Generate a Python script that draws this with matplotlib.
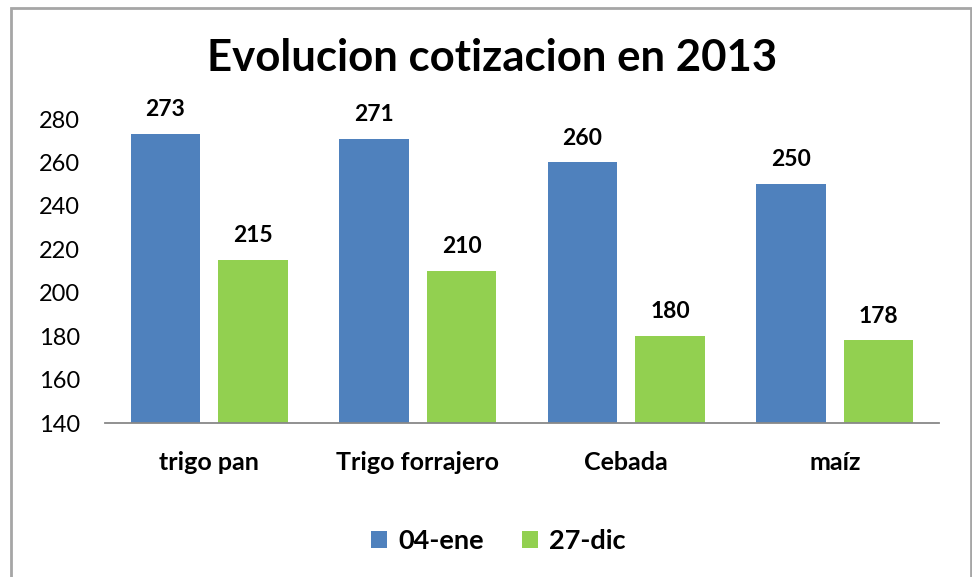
import matplotlib.pyplot as plt
from matplotlib.patches import Rectangle
import numpy as np

plt.rcParams['font.family'] = ['Lato', 'DejaVu Sans']

# datos
categorias = ["trigo pan", "Trigo forrajero", "Cebada", "maíz"]
ene = [273, 271, 260, 250]
dic = [215, 210, 180, 178]
series = ["04-ene", "27-dic"]
colores = ["#4F81BD", "#92D050"]

fig = plt.figure(figsize=(9.72, 5.77), dpi=100)
ax = fig.add_axes([105/972, 1-423/577, 834/972, (423-119)/577])

x = np.arange(len(categorias))
w = 0.335
gap = 0.085
b1 = ax.bar(x - (w+gap)/2, [v-140 for v in ene], w, bottom=140, color=colores[0], label=series[0])
b2 = ax.bar(x + (w+gap)/2, [v-140 for v in dic], w, bottom=140, color=colores[1], label=series[1])

for bars, vals in ((b1, ene), (b2, dic)):
    for r, v in zip(bars, vals):
        ax.annotate(str(v), (r.get_x()+r.get_width()/2, v), xytext=(0, 10), textcoords="offset points",
                    ha="center", va="bottom", fontsize=16.5, fontweight="bold", annotation_clip=False)

ax.set_ylim(140, 280)
ax.set_xlim(-0.5, len(categorias)-0.5)
ax.set_yticks(range(140, 281, 20))
ax.set_xticks(x)
ax.set_xticklabels(categorias, fontsize=18, fontweight="bold")
ax.tick_params(axis="y", length=0, labelsize=17, pad=18)
ax.tick_params(axis="x", length=0, pad=20)
for s in ("top", "right", "left"):
    ax.spines[s].set_visible(False)
ax.spines["bottom"].set_color("#888888")
ax.spines["bottom"].set_linewidth(1.3)

fig.text(492/972, 1-58/577, "Evolucion cotizacion en 2013", ha="center", va="center", fontsize=31.5, fontweight="bold")

leg = fig.legend(loc="center", bbox_to_anchor=(498/972, 1-541/577), ncol=2, frameon=False,
                 prop={"size": 19.5, "weight": "bold"}, handlelength=0.6, handleheight=0.6,
                 handletextpad=0.4, columnspacing=1.4)

fig.patches.append(Rectangle((11/972, -0.05), 960/972, 1.05-8/577, transform=fig.transFigure,
                             fill=False, edgecolor="#A6A6A6", linewidth=2))

fig.savefig("out.png")
